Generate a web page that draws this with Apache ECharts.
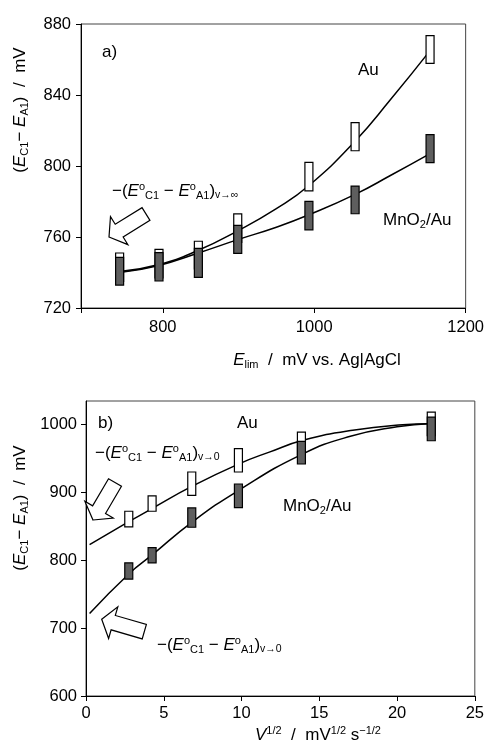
<!DOCTYPE html>
<html>
<head>
<meta charset="utf-8">
<script src="https://cdn.jsdelivr.net/npm/echarts@6/dist/echarts.min.js"></script>
<style>
  html, body { margin: 0; padding: 0; background: #fff; }
  #chart { width: 487px; height: 745px; }
</style>
</head>
<body>
<div id="chart"></div>
<script>
// panel a) : peak separation vs. E_lim
const aElim = [743, 795, 847, 899, 993, 1054, 1153]
const aAuLo = [735, 737, 742, 757, 786, 808.6, 857.8]
const aAuHi = [751, 753, 757.6, 773, 802, 824.4, 873.4]
const aMnLo = [732.9, 735.2, 737.3, 750.8, 764, 773.1, 801.9]
const aMnHi = [748.5, 751.2, 753.6, 766.6, 780.1, 788.7, 817.7]
const aAuFitX = [743, 795, 847, 899, 950, 993, 1054, 1100, 1153]
const aAuFitY = [740.5, 744.5, 752.5, 763.5, 776, 789, 814, 837, 865]
const aMnFitX = [743, 795, 847, 899, 950, 993, 1054, 1100, 1153]
const aMnFitY = [740, 744, 751, 758.5, 765.5, 772.5, 784, 794.5, 807]
const aXTicks = [800, 1000, 1200]

// panel b) : peak separation vs. v^1/2
const bSqrtV = [2.75, 4.25, 6.8, 9.8, 13.85, 22.2]
const bAuLo = [849.3, 872.4, 895.9, 930.3, 955, 984]
const bAuHi = [872.4, 895, 930.3, 964.7, 989, 1018.6]
const bMnLo = [772.3, 796.3, 848.8, 877.8, 942.1, 976.4]
const bMnHi = [796.3, 818.9, 877.3, 912.6, 975.5, 1011.3]
const bAuFitX = [0.23, 2.75, 4.25, 6.8, 9.8, 11.83, 13.95, 17.15, 20.36, 22.1]
const bAuFitY = [823.3, 857, 876.5, 909, 942, 960, 977, 992, 1000, 1001.5]
const bMnFitX = [0.23, 2.75, 4.25, 6.8, 9.8, 13.85, 17, 20, 22.2]
const bMnFitY = [721.6, 780, 808, 856, 903, 956, 983, 997, 1002]
const bYTicks = [600, 700, 800, 900, 1000]

const FONT = '"Liberation Sans", Arial, sans-serif'

const rich = {
  n: { fontSize: 17, fontFamily: FONT, fill: '#000' },
  i: { fontSize: 17, fontFamily: FONT, fontStyle: 'italic', fill: '#000' },
  sub: { fontSize: 11, fontFamily: FONT, fill: '#000', padding: [9, 0, 0, 0] },
  sup: { fontSize: 11, fontFamily: FONT, fill: '#000', padding: [0, 0, 9, 0] },
  sub2: { fontSize: 10.5, fontFamily: FONT, fill: '#000', padding: [9, 0, 0, 0] }
}

function zip(xs, ys) {
  return xs.map((x, i) => [x, ys[i]])
}

function fitLine(idx, xs, ys) {
  return {
    type: 'line',
    xAxisIndex: idx,
    yAxisIndex: idx,
    data: zip(xs, ys),
    smooth: true,
    showSymbol: false,
    lineStyle: { color: '#000', width: 1.5 },
    z: 2
  }
}

function boxes(idx, xs, lo, hi, fill, z) {
  return {
    type: 'custom',
    xAxisIndex: idx,
    yAxisIndex: idx,
    z: z,
    encode: { x: 0, y: [1, 2] },
    data: xs.map((x, i) => [x, lo[i], hi[i]]),
    renderItem(params, api) {
      const top = api.coord([api.value(0), api.value(2)])
      const bot = api.coord([api.value(0), api.value(1)])
      return {
        type: 'rect',
        shape: { x: top[0] - 4, y: top[1], width: 8, height: bot[1] - top[1] },
        style: { fill: fill, stroke: '#000', lineWidth: 1.2 }
      }
    }
  }
}

function text(x, y, str, opts) {
  opts = opts || {}
  return {
    type: 'text',
    x: x,
    y: y,
    rotation: opts.rotation || 0,
    z: 20,
    style: {
      text: str,
      rich: rich,
      fontSize: 17,
      fontFamily: FONT,
      fill: '#000',
      align: opts.align || 'left',
      verticalAlign: 'middle'
    }
  }
}

// outlined block arrow, tip -> tail
function arrow(tip, tail) {
  const dx = tail[0] - tip[0]
  const dy = tail[1] - tip[1]
  const L = Math.hypot(dx, dy)
  const ux = dx / L, uy = dy / L, nx = -uy, ny = ux
  const hl = 12, hw = 16.5, sw = 7.5
  const p = (a, b) => [tip[0] + ux * a + nx * b, tip[1] + uy * a + ny * b]
  return {
    type: 'polygon',
    z: 20,
    shape: { points: [p(0, 0), p(hl, hw), p(hl, sw), p(L, sw), p(L, -sw), p(hl, -sw), p(hl, -hw)] },
    style: { fill: '#fff', stroke: '#000', lineWidth: 1.2 }
  }
}

const axisCommon = {
  axisLine: { onZero: false, lineStyle: { color: '#000', width: 1 } },
  axisTick: { length: 5, lineStyle: { color: '#000' } },
  axisLabel: { fontSize: 16.5, fontFamily: FONT, color: '#000', formatter: v => String(v) },
  splitLine: { show: false }
}

const yTitle = '{n|(}{i|E}{sub|C1}{n|− }{i|E}{sub|A1}{n|)  /  mV}'
const annInf = '{n|−(}{i|E}{sup|o}{sub|C1}{n| − }{i|E}{sup|o}{sub|A1}{n|)}{sub2|v→∞}'
const annZero = '{n|−(}{i|E}{sup|o}{sub|C1}{n| − }{i|E}{sup|o}{sub|A1}{n|)}{sub2|v→0}'

const chart = echarts.init(document.getElementById('chart'))

chart.setOption({
  animation: false,
  backgroundColor: '#fff',
  grid: [
    { left: 81, top: 24, width: 391, height: 284, show: true, borderColor: '#444', borderWidth: 1 },
    { left: 86, top: 401, width: 390, height: 295, show: true, borderColor: '#444', borderWidth: 1 }
  ],
  xAxis: [
    Object.assign({}, axisCommon, {
      gridIndex: 0, type: 'value', min: 692, max: 1200,
      axisTick: Object.assign({}, axisCommon.axisTick, { customValues: [692].concat(aXTicks) }),
      axisLabel: Object.assign({}, axisCommon.axisLabel, { customValues: aXTicks, margin: 11 })
    }),
    Object.assign({}, axisCommon, {
      gridIndex: 1, type: 'value', min: 0, max: 25, interval: 5,
      axisLabel: Object.assign({}, axisCommon.axisLabel, { margin: 9 })
    })
  ],
  yAxis: [
    Object.assign({}, axisCommon, {
      gridIndex: 0, type: 'value', min: 720, max: 880, interval: 40,
      axisLabel: Object.assign({}, axisCommon.axisLabel, { margin: 10 })
    }),
    Object.assign({}, axisCommon, {
      gridIndex: 1, type: 'value', min: 600, max: 1035,
      axisTick: Object.assign({}, axisCommon.axisTick, { customValues: bYTicks }),
      axisLabel: Object.assign({}, axisCommon.axisLabel, { customValues: bYTicks, margin: 9 })
    })
  ],
  series: [
    fitLine(0, aAuFitX, aAuFitY),
    fitLine(0, aMnFitX, aMnFitY),
    boxes(0, aElim, aAuLo, aAuHi, '#fff', 5),
    boxes(0, aElim, aMnLo, aMnHi, '#5e5e5e', 6),
    fitLine(1, bAuFitX, bAuFitY),
    fitLine(1, bMnFitX, bMnFitY),
    boxes(1, bSqrtV, bAuLo, bAuHi, '#fff', 5),
    boxes(1, bSqrtV, bMnLo, bMnHi, '#5e5e5e', 6)
  ],
  graphic: [
    // panel a
    text(102, 52, '{n|a)}'),
    text(358, 70, '{n|Au}'),
    text(383, 220, '{n|MnO}{sub|2}{n|/Au}'),
    text(112, 191, annInf),
    arrow([109, 237], [146, 214]),
    text(317, 360, '{i|E}{sub|lim}{n|  /  mV vs. Ag|AgCl}', { align: 'center' }),
    text(20, 110, yTitle, { align: 'center', rotation: Math.PI / 2 }),
    // panel b
    text(98, 423, '{n|b)}'),
    text(237, 423, '{n|Au}'),
    text(95, 453, annZero),
    arrow([93, 520], [115, 482.5]),
    text(283, 506, '{n|MnO}{sub|2}{n|/Au}'),
    text(157, 645, annZero),
    arrow([101.7, 619.3], [144.3, 631.7]),
    text(318, 735, '{i|V}{sup|1/2}{n|  /  mV}{sup|1/2}{n| s}{sup|−1/2}', { align: 'center' }),
    text(20, 508, yTitle, { align: 'center', rotation: Math.PI / 2 })
  ]
})
</script>
</body>
</html>
